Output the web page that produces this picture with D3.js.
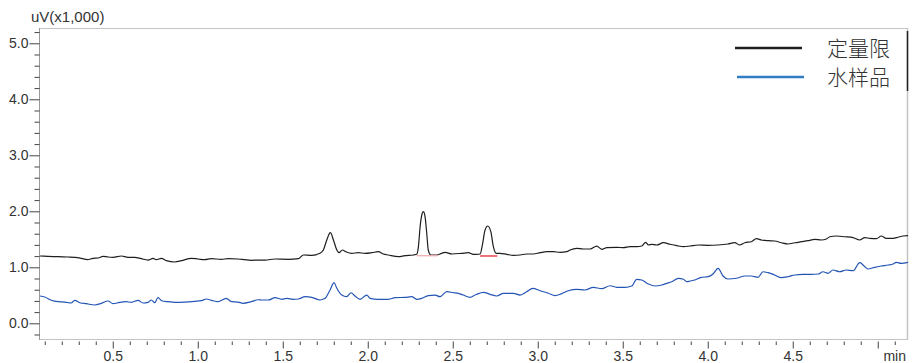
<!DOCTYPE html>
<html>
<head>
<meta charset="utf-8">
<script src="https://cdn.jsdelivr.net/npm/d3@7/dist/d3.min.js"></script>
<style>
  html, body { margin: 0; padding: 0; background: #fff; }
  svg { display: block; }
  text { font-family: "Liberation Sans", Arial, Helvetica, sans-serif; }
</style>
</head>
<body>
<svg id="chart" width="912" height="363"></svg>
<script>
// ---- data (time in min, signal in uV x1,000) ----
const seriesNames = ["定量限", "水样品"];

const blackT = [0.072,0.119,0.178,0.237,0.276,0.315,0.351,0.384,0.414,0.443,0.472,0.502,0.551,0.590,0.629,0.668,0.708,0.737,0.756,0.786,0.815,0.865,0.904,0.962,1.002,1.041,1.080,1.139,1.178,1.237,1.276,1.315,1.355,1.396,1.455,1.533,1.592,1.621,1.671,1.719,1.739,1.759,1.780,1.798,1.818,1.831,1.851,1.871,1.906,1.945,1.984,2.024,2.062,2.092,2.121,2.180,2.219,2.268,2.288,2.298,2.308,2.318,2.327,2.337,2.347,2.356,2.371,2.406,2.435,2.455,2.494,2.553,2.592,2.621,2.641,2.661,2.676,2.690,2.706,2.724,2.739,2.755,2.778,2.818,2.856,2.896,2.935,2.974,3.014,3.053,3.092,3.131,3.171,3.190,3.229,3.268,3.308,3.347,3.376,3.406,3.465,3.504,3.543,3.582,3.612,3.635,3.651,3.671,3.700,3.739,3.778,3.818,3.857,3.896,3.943,4.002,4.061,4.119,4.159,4.188,4.218,4.256,4.286,4.315,4.355,4.394,4.433,4.472,4.512,4.551,4.590,4.629,4.668,4.698,4.718,4.756,4.806,4.855,4.894,4.924,4.953,4.992,5.021,5.051,5.090,5.119,5.149,5.178];
const blackV = [1.202,1.196,1.189,1.184,1.179,1.161,1.136,1.161,1.166,1.196,1.184,1.179,1.202,1.179,1.179,1.154,1.130,1.161,1.136,1.161,1.118,1.095,1.118,1.161,1.148,1.136,1.154,1.143,1.154,1.148,1.136,1.125,1.130,1.130,1.148,1.143,1.154,1.220,1.214,1.250,1.309,1.488,1.618,1.488,1.309,1.261,1.309,1.279,1.250,1.261,1.250,1.261,1.279,1.238,1.220,1.189,1.207,1.220,1.232,1.368,1.725,1.934,1.993,1.904,1.607,1.309,1.220,1.220,1.250,1.268,1.238,1.250,1.261,1.232,1.232,1.238,1.429,1.666,1.738,1.636,1.368,1.250,1.250,1.232,1.214,1.220,1.238,1.238,1.261,1.279,1.279,1.268,1.279,1.309,1.339,1.327,1.327,1.380,1.321,1.350,1.357,1.350,1.368,1.368,1.380,1.446,1.398,1.411,1.398,1.439,1.411,1.386,1.368,1.380,1.398,1.393,1.398,1.416,1.439,1.398,1.439,1.457,1.511,1.488,1.475,1.470,1.439,1.416,1.439,1.457,1.475,1.500,1.488,1.505,1.546,1.559,1.546,1.529,1.488,1.529,1.518,1.511,1.559,1.518,1.518,1.536,1.559,1.564];

const blueT = [0.072,0.100,0.139,0.178,0.218,0.256,0.276,0.306,0.345,0.394,0.433,0.472,0.502,0.541,0.580,0.609,0.649,0.678,0.708,0.727,0.747,0.766,0.790,0.825,0.865,0.924,0.982,1.021,1.051,1.080,1.119,1.168,1.198,1.237,1.266,1.315,1.355,1.376,1.415,1.455,1.494,1.524,1.562,1.592,1.631,1.671,1.719,1.749,1.778,1.802,1.818,1.847,1.876,1.902,1.925,1.955,1.994,2.014,2.062,2.121,2.161,2.219,2.259,2.288,2.318,2.356,2.396,2.425,2.465,2.504,2.533,2.562,2.602,2.631,2.641,2.680,2.719,2.759,2.798,2.856,2.896,2.935,2.971,3.014,3.062,3.102,3.141,3.180,3.229,3.278,3.327,3.376,3.425,3.465,3.514,3.553,3.582,3.612,3.651,3.690,3.729,3.759,3.788,3.827,3.857,3.876,3.896,3.924,3.962,4.002,4.031,4.061,4.090,4.119,4.168,4.218,4.256,4.296,4.325,4.355,4.394,4.433,4.472,4.512,4.561,4.609,4.649,4.678,4.708,4.737,4.776,4.815,4.855,4.894,4.924,4.943,4.982,5.021,5.061,5.090,5.109,5.139,5.178];
const blueV = [0.488,0.470,0.411,0.386,0.380,0.363,0.411,0.368,0.350,0.327,0.357,0.398,0.350,0.375,0.386,0.375,0.411,0.363,0.375,0.416,0.368,0.457,0.398,0.386,0.375,0.380,0.393,0.404,0.434,0.411,0.386,0.446,0.386,0.380,0.357,0.386,0.421,0.416,0.416,0.457,0.429,0.446,0.429,0.434,0.475,0.464,0.416,0.446,0.595,0.725,0.625,0.505,0.475,0.546,0.488,0.429,0.505,0.446,0.429,0.429,0.457,0.464,0.475,0.429,0.446,0.493,0.505,0.475,0.564,0.546,0.536,0.505,0.464,0.505,0.518,0.554,0.518,0.488,0.536,0.536,0.505,0.564,0.625,0.582,0.536,0.493,0.529,0.582,0.607,0.595,0.643,0.618,0.671,0.643,0.643,0.666,0.786,0.773,0.702,0.666,0.684,0.714,0.743,0.804,0.786,0.743,0.755,0.773,0.821,0.832,0.880,0.982,0.845,0.791,0.804,0.845,0.845,0.821,0.921,0.904,0.863,0.814,0.832,0.863,0.875,0.875,0.880,0.921,0.893,0.952,0.921,0.952,0.939,1.082,1.011,0.970,1.000,1.023,1.041,1.059,1.089,1.071,1.089];

// integration baselines under peaks
const peakBaseStart = [2.288, 2.661];
const peakBaseEnd   = [2.412, 2.762];
const peakBaseLevel = [1.207, 1.202];

const yMajorTicks = [0, 1, 2, 3, 4, 5];
const yTickLabels = ["0.0", "1.0", "2.0", "3.0", "4.0", "5.0"];
const yMinorTicks = [-0.2, 0.2, 0.4, 0.6, 0.8, 1.2, 1.4, 1.6, 1.8, 2.2, 2.4, 2.6, 2.8, 3.2, 3.4, 3.6, 3.8, 4.2, 4.4, 4.6, 4.8, 5.2];
const xMajorTicks = [0.5, 1.0, 1.5, 2.0, 2.5, 3.0, 3.5, 4.0, 4.5, 5.0];
const xTickLabels = ["0.5", "1.0", "1.5", "2.0", "2.5", "3.0", "3.5", "4.0", "4.5", ""];
const xMinorTicks = [0.1,0.2,0.3,0.4,0.6,0.7,0.8,0.9,1.1,1.2,1.3,1.4,1.6,1.7,1.8,1.9,2.1,2.2,2.3,2.4,2.6,2.7,2.8,2.9,3.1,3.2,3.3,3.4,3.6,3.7,3.8,3.9,4.1,4.2,4.3,4.4,4.6,4.7,4.8,4.9,5.1];
const yTitle = "uV(x1,000)";
const xTitle = "min";

// ---- layout ----
const L = 40, R = 908, T = 28, B = 340;
const x = d3.scaleLinear().domain([0.072, 5.178]).range([L, R]);
const y = d3.scaleLinear().domain([-0.298, 5.273]).range([B, T]);

const svg = d3.select("#chart");

// frame
svg.append("line").attr("x1", L).attr("x2", R).attr("y1", T + 0.5).attr("y2", T + 0.5)
  .attr("stroke", "#c4c4c4").attr("stroke-width", 1);
svg.append("line").attr("x1", R - 0.5).attr("x2", R - 0.5).attr("y1", T).attr("y2", B)
  .attr("stroke", "#c4c4c4").attr("stroke-width", 1.5);
svg.append("line").attr("x1", R - 0.5).attr("x2", R - 0.5).attr("y1", 31).attr("y2", 91)
  .attr("stroke", "#222").attr("stroke-width", 1.5);
svg.append("line").attr("x1", L).attr("x2", R).attr("y1", B - 0.5).attr("y2", B - 0.5)
  .attr("stroke", "#c4c4c4").attr("stroke-width", 1);

const tickFont = "14px";

// y axis
const yAxisMajor = d3.axisLeft(y).tickValues(yMajorTicks).tickSize(10).tickPadding(1)
  .tickFormat((d, i) => yTickLabels[i]);
const gy = svg.append("g").attr("transform", `translate(${L - 0.5},0)`).call(yAxisMajor);
gy.select(".domain").attr("stroke", "#9a9a9a").attr("d", `M0,${T}V${B}`);
gy.selectAll(".tick line").attr("stroke", "#444");
gy.selectAll(".tick text").attr("fill", "#333").style("font-size", tickFont)
  .style("font-family", '"Liberation Sans", Arial, sans-serif');
const gyMinor = svg.append("g").attr("transform", `translate(${L - 0.5},0)`)
  .call(d3.axisLeft(y).tickValues(yMinorTicks).tickSize(5).tickFormat(""));
gyMinor.select(".domain").remove();
gyMinor.selectAll(".tick line").attr("stroke", "#444");

// x axis (ticks hang below the frame)
const xAxisMajor = d3.axisBottom(x).tickValues(xMajorTicks).tickSize(7).tickPadding(3)
  .tickFormat((d, i) => xTickLabels[i]);
const gx = svg.append("g").attr("transform", `translate(0,${B + 1.5})`).call(xAxisMajor);
gx.select(".domain").remove();
gx.selectAll(".tick line").attr("stroke", "#444");
gx.selectAll(".tick text").attr("fill", "#333").style("font-size", tickFont)
  .style("font-family", '"Liberation Sans", Arial, sans-serif');
const gxMinor = svg.append("g").attr("transform", `translate(0,${B + 1.5})`)
  .call(d3.axisBottom(x).tickValues(xMinorTicks).tickSize(3.5).tickFormat(""));
gxMinor.select(".domain").remove();
gxMinor.selectAll(".tick line").attr("stroke", "#444");

// titles
svg.append("text").attr("x", 31).attr("y", 22).attr("fill", "#333")
  .style("font-size", "15px").text(yTitle);
svg.append("text").attr("x", 906).attr("y", 361).attr("text-anchor", "end").attr("fill", "#333")
  .style("font-size", tickFont).text(xTitle);

// series
const line = d3.line().x(d => x(d[0])).y(d => y(d[1])).curve(d3.curveMonotoneX);
const blackData = blackT.map((t, i) => [t, blackV[i]]);
const blueData = blueT.map((t, i) => [t, blueV[i]]);

svg.append("clipPath").attr("id", "plotclip")
  .append("rect").attr("x", L).attr("y", T).attr("width", R - L).attr("height", B - T);

const plot = svg.append("g").attr("clip-path", "url(#plotclip)");
plot.append("path").datum(blueData).attr("d", line)
  .attr("fill", "none").attr("stroke", "#2455b5").attr("stroke-width", 1.2);
plot.append("path").datum(blackData).attr("d", line)
  .attr("fill", "none").attr("stroke", "#1e1e1e").attr("stroke-width", 1.2);

// peak integration baselines
const baseColors = ["#f2b0b0", "#e8262a"];
peakBaseStart.forEach((s, i) => {
  plot.append("line")
    .attr("x1", x(s)).attr("x2", x(peakBaseEnd[i]))
    .attr("y1", y(peakBaseLevel[i])).attr("y2", y(peakBaseLevel[i]))
    .attr("stroke", baseColors[i]).attr("stroke-width", 1.3);
});

// legend
const legendColors = ["#1e1e1e", "#2f7dc2"];
const legendY = [48, 77];
const legendX1 = [735, 737], legendX2 = [802, 804];
seriesNames.forEach((name, i) => {
  svg.append("line").attr("x1", legendX1[i]).attr("x2", legendX2[i])
    .attr("y1", legendY[i]).attr("y2", legendY[i])
    .attr("stroke", legendColors[i]).attr("stroke-width", 2.6);
  svg.append("text").attr("x", 827).attr("y", legendY[i]).attr("dy", "0.36em")
    .attr("fill", "#333").style("font-size", "21px")
    .style("font-family", '"Noto Sans CJK SC", sans-serif').style("font-weight", 300)
    .text(name);
});
</script>
</body>
</html>
